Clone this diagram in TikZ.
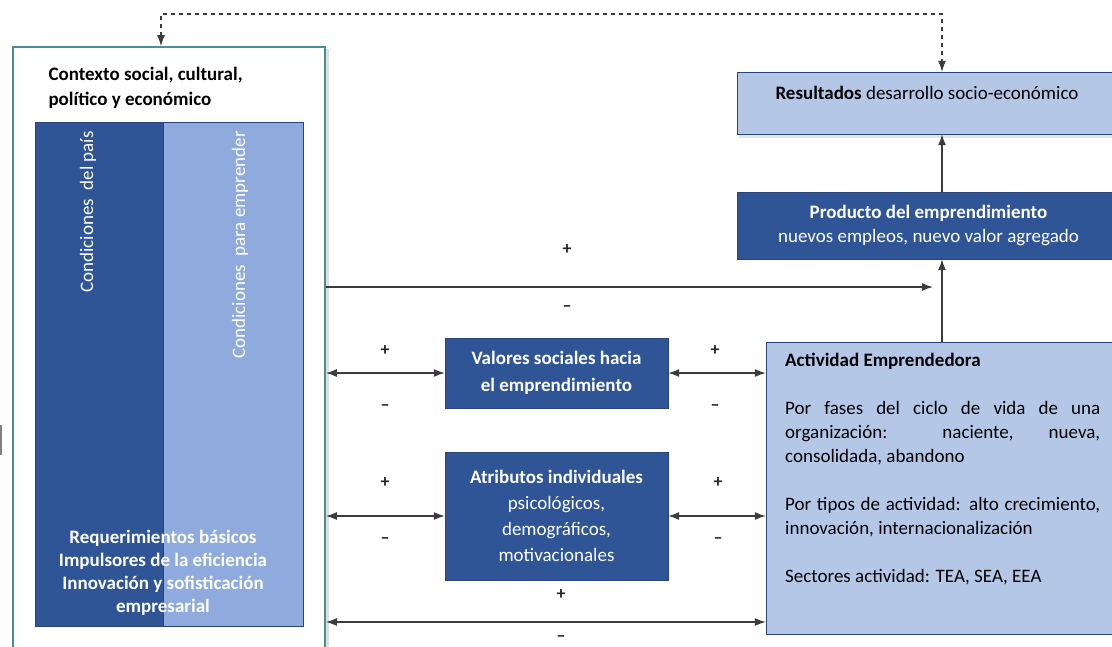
\documentclass[tikz,border=0pt]{standalone}
\usepackage{fontspec}
\setmainfont{Carlito}
\usetikzlibrary{arrows.meta,shadows}
\definecolor{ctxteal}{RGB}{78,142,146}
\definecolor{darkblue}{RGB}{47,85,151}
\definecolor{midblue}{RGB}{143,170,220}
\definecolor{lightblue}{RGB}{180,199,231}
\definecolor{edgeblue}{RGB}{40,68,120}
\definecolor{linegray}{RGB}{60,60,60}
\begin{document}
\begin{tikzpicture}[x=1pt,y=-1pt,>={Latex[length=11pt,width=8pt]},
  every node/.style={font=\fontsize{19}{24}\selectfont},
  darkbox/.style={rectangle,fill=darkblue,draw=edgeblue,text=white,inner sep=0pt,align=center},
  lightbox/.style={rectangle,fill=lightblue,draw=edgeblue,inner sep=0pt},
  sign/.style={inner sep=0mm,font=\fontsize{18}{18}\selectfont\bfseries,text=black!85},
  link/.style={draw=linegray,line width=1.3pt}]
\useasboundingbox (0,0) rectangle (1112,646);
\clip (0,0) rectangle (1112,646);
\fill[white] (0,0) rectangle (1112,646);
\node[draw=ctxteal,line width=1.8pt,fill=white,minimum width=312pt,minimum height=620pt,
  drop shadow={shadow xshift=4pt,shadow yshift=-2pt,opacity=.25}] (ctx) at (169,357) {};
\node[anchor=west,align=left,font=\fontsize{19}{25}\selectfont\bfseries] (ctxt) at (45,88) {Contexto social, cultural,\\pol\'itico y econ\'omico};
\foreach \x/\y/\w/\n/\c in {99/374/128/pais/darkblue, 233/374/140/emp/midblue}
  \node[rectangle,fill=\c,draw=edgeblue,minimum width=\w pt,minimum height=504pt] (\n) at (\x,\y) {};
\foreach \x/\y/\n/\t in {88/212/paist/Condiciones\ \ del país, 240/245/empt/Condiciones\ \ para emprender}
  \node[rotate=90,text=white,inner sep=0pt] (\n) at (\x,\y) {\t};
\node[align=center,text=white,font=\fontsize{19}{23}\selectfont\bfseries] (req) at (163,573)
  {Requerimientos básicos\\Impulsores de la eficiencia\\Innovación y sofisticación\\empresarial};
\draw[gray,line width=2pt] (1,425) -- (1,455);
\node[lightbox,minimum width=383pt,minimum height=62pt,drop shadow={shadow xshift=2pt,shadow yshift=-4pt,opacity=.2}] (res) at (928.5,103) {};
\node (rest) at (927,93) {\textbf{Resultados} desarrollo socio-económico};
\node[darkbox,minimum width=383pt,minimum height=67pt] (prod) at (928.5,225.5)
  {\textbf{Producto del emprendimiento}\\nuevos empleos, nuevo valor agregado};
\node[lightbox,minimum width=352pt,minimum height=292pt] (act) at (942,488) {};
\node[anchor=north west,text width=315pt,align=justify,inner sep=0pt] (actt) at (785,353)
  {\textbf{Actividad Emprendedora}\par\vspace{24pt}
  Por fases del ciclo de vida de una\linebreak organización: naciente, nueva,\linebreak consolidada, abandono\par\vspace{24pt}
  Por tipos de actividad: alto crecimiento,\linebreak innovación, internacionalización\par\vspace{24pt}
  Sectores actividad: TEA, SEA, EEA};
\node[darkbox,minimum width=223pt,minimum height=70pt,font=\fontsize{19}{27}\selectfont\bfseries] (val) at (556.5,373)
  {Valores sociales hacia\\el emprendimiento};
\node[darkbox,minimum width=223pt,minimum height=128pt,font=\fontsize{19}{26}\selectfont] (atr) at (556.5,516)
  {\textbf{Atributos individuales}\\psicológicos,\\demográficos,\\motivacionales};
\coordinate (top1) at (161,14);
\coordinate (top2) at (942,14);
\coordinate (mid) at (933,287);
\coordinate (low) at (500,622);
\draw[<->,draw=linegray,line width=1.1pt,dash pattern=on 4pt off 4pt] (ctx.north -| top1) -- (top1) -- (top2) -- (res.north -| top2);
\draw[->,link] (act.north) -- (act.north |- prod.south);
\draw[->,link] (act.north |- prod.north) -- (act.north |- res.south);
\draw[->,link] (ctx.east |- mid) -- (mid);
\foreach \s/\t in {val/val, atr/atr}
  \draw[<->,link] (ctx.east |- \s) -- (\t);
\foreach \s/\t in {val/val, atr/atr}
  \draw[<->,link] (\s) -- (act.west |- \t);
\draw[<->,link] (ctx.east |- low) -- (act.west |- low);
\foreach \x/\y/\n/\t in {567/250/p1/+, 567/309/m1/--, 385/351/p2/+, 385/408/m2/--, 715/351/p3/+, 715/408/m3/--,
  385/483/p4/+, 385/541/m4/--, 718/483/p5/+, 718/541/m5/--, 561/595/p6/+, 561/639/m6/--}
  \node[sign] (\n) at (\x,\y) {\t};
\end{tikzpicture}
\end{document}
